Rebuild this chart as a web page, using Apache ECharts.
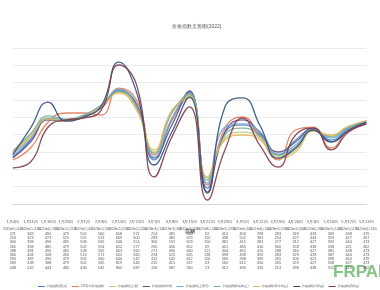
<!DOCTYPE html>
<html>
<head>
<meta charset="utf-8">
<script src="https://cdn.jsdelivr.net/npm/echarts@6/dist/echarts.min.js"></script>
<style>html,body{margin:0;padding:0;background:#fff;}</style>
</head>
<body>
<div id="main" style="width:380px;height:290px;"></div>
<script>
// 表头：日期
var weeks = ['1月4日', '1月11日', '1月18日', '1月25日', '2月1日', '2月8日', '2月15日', '2月22日', '3月1日', '3月8日', '3月15日',
    '3月22日', '3月29日', '4月5日', '4月12日', '4月19日', '4月26日', '5月3日', '5月10日', '5月17日', '5月24日'];
var dates = ['2022年1月4日', '2022年1月11日', '2022年1月18日', '2022年1月25日', '2022年2月1日', '2022年2月8日', '2022年2月15日',
    '2022年2月22日', '2022年3月1日', '2022年3月8日', '2022年3月15日', '2022年3月22日', '2022年3月29日', '2022年4月5日',
    '2022年4月12日', '2022年4月19日', '2022年4月26日', '2022年5月3日', '2022年5月10日', '2022年5月17日', '2022年5月24日'];

var names = ['价格指数(通用)', '2019(大)价格指数', '价格指数(上涨)', '价格指数(华东)', '价格指数(上蓝色)',
    '价格指数(华南地区)', '价格指数(华北地区)', '价格指数(1级品)', '价格指数(2级品)'];
var colors = ['#4a7ebb', '#e27b56', '#b8cc7a', '#5b4e8c', '#6fa8dc', '#7dae9f', '#e6b85c', '#34507f', '#7f3b46'];

var s1 = [271, 369, 490, 479, 502, 560, 658, 571, 254, 485, 646, 92, 410, 456, 398, 283, 369, 433, 369, 438, 479];
var s2 = [254, 323, 473, 525, 525, 513, 669, 600, 283, 485, 629, 110, 438, 502, 381, 254, 427, 444, 323, 427, 467];
var s3 = [300, 398, 496, 485, 508, 565, 646, 554, 300, 531, 623, 150, 381, 415, 381, 277, 312, 427, 392, 444, 473];
var s4 = [265, 358, 485, 479, 502, 554, 652, 577, 265, 456, 652, 69, 415, 485, 410, 300, 358, 438, 358, 421, 462];
var s5 = [288, 381, 496, 485, 508, 565, 663, 565, 271, 496, 640, 121, 444, 462, 415, 288, 340, 427, 381, 438, 473];
var s6 = [306, 404, 508, 490, 513, 571, 652, 560, 294, 525, 635, 138, 398, 438, 392, 283, 329, 433, 387, 444, 473];
var s7 = [294, 387, 490, 479, 502, 560, 640, 542, 312, 542, 612, 156, 369, 398, 369, 265, 300, 421, 398, 450, 479];
var s8 = [283, 438, 588, 479, 502, 565, 819, 646, 225, 415, 617, 63, 560, 612, 450, 265, 323, 427, 358, 427, 473];
var s9 = [208, 242, 444, 485, 496, 542, 802, 687, 156, 387, 560, 23, 312, 496, 335, 213, 398, 438, 312, 415, 462];

var rows = [s1, s2, s3, s4, s5, s6, s7, s8, s9];

var myChart = echarts.init(document.getElementById('main'));

var labelColor = '#595959';

// 主轴 + 数据表（每一行用一个类目轴画出来）
var xAxes = [{
    type: 'category',
    data: weeks,
    boundaryGap: false,
    position: 'bottom',
    axisLine: {lineStyle: {color: '#d9d9d9'}},
    axisTick: {show: false},
    axisLabel: {interval: 0, margin: 16, fontSize: 4, color: labelColor},
    name: '日期',
    nameLocation: 'middle',
    nameGap: 6,
    nameTextStyle: {fontSize: 4.5, fontWeight: 'bold', color: labelColor}
}, {
    type: 'category',
    data: dates,
    boundaryGap: false,
    position: 'bottom',
    offset: 24,
    axisLine: {show: false},
    axisTick: {show: false},
    axisLabel: {interval: 0, margin: 0, fontSize: 3.2, color: labelColor}
}];
rows.forEach(function (r, i) {
    xAxes.push({
        type: 'category',
        data: r,
        boundaryGap: false,
        position: 'bottom',
        offset: 28 + 4.2 * i,
        axisLine: {show: false},
        axisTick: {show: false},
        axisLabel: {interval: 0, margin: 0, fontSize: 3.8, color: labelColor}
    });
});

var series = rows.map(function (r, i) {
    return {
        name: names[i],
        type: 'line',
        data: r,
        xAxisIndex: 0,
        smooth: 0.5,
        symbol: 'none',
        lineStyle: {width: 1.3, color: colors[i], opacity: 0.9},
        itemStyle: {color: colors[i]}
    };
});

option = {
    animation: false,
    title: {
        text: '价格指数走势图(2022)',
        left: 167,
        top: 19,
        textStyle: {fontSize: 5, fontWeight: 'normal', color: labelColor}
    },
    legend: {
        data: names,
        left: 33,
        top: 280,
        icon: 'rect',
        itemWidth: 7,
        itemHeight: 1,
        itemGap: 5,
        textStyle: {fontSize: 2.8, color: labelColor, padding: [0, 0, 0, -3]}
    },
    grid: {left: 0, top: 48, width: 396, height: 156},
    xAxis: xAxes,
    yAxis: {
        type: 'value',
        min: 0,
        max: 900,
        interval: 100,
        axisLabel: {show: false},
        axisLine: {show: false},
        axisTick: {show: false},
        splitLine: {lineStyle: {color: '#ebebeb', width: 1}}
    },
    graphic: [{
        type: 'text',
        left: 333,
        top: 264,
        style: {text: 'FRPAP', fill: 'rgba(112,184,112,0.85)', font: 'bold 17px "Liberation Sans", Arial, sans-serif'}
    }],
    series: series
};

myChart.setOption(option);
</script>
</body>
</html>
